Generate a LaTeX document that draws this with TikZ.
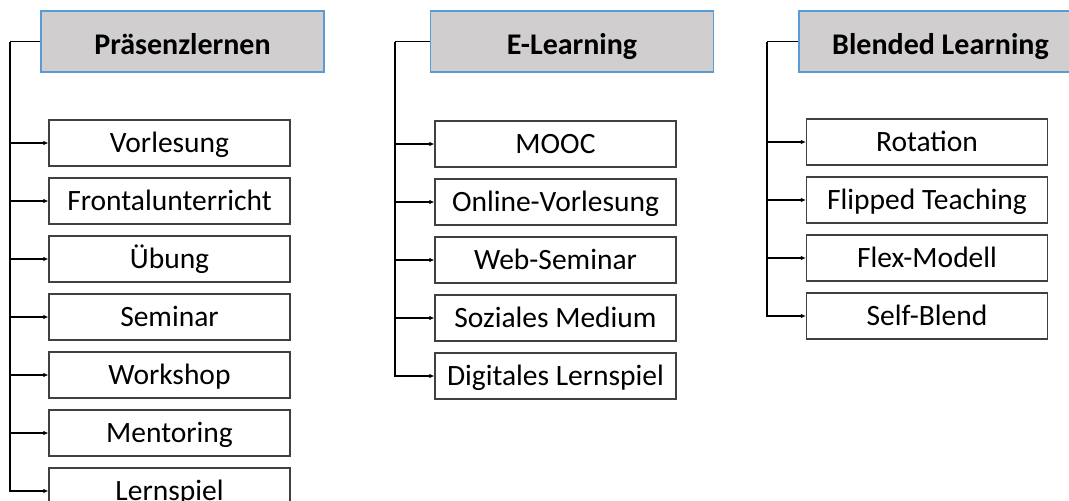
\documentclass[tikz,border=0pt]{standalone}
\usepackage{fontspec}
\setmainfont{Carlito}
\usetikzlibrary{positioning,arrows.meta}
\definecolor{hdfill}{HTML}{D0CECE}
\definecolor{hdline}{HTML}{5B9BD5}
\begin{document}
\begin{tikzpicture}[
  x=1pt,y=-1pt,
  head/.style={draw=hdline,fill=hdfill,line width=1.8pt,minimum width=283pt,minimum height=61pt,
    inner sep=0pt,text height=25pt,text depth=0pt,font=\fontsize{30}{36}\selectfont\bfseries},
  item/.style={draw=black!75,line width=1.2pt,minimum width=241pt,minimum height=46pt,
    inner sep=0pt,text height=18pt,text depth=0pt,font=\fontsize{29.5}{35}\selectfont},
  link/.style={line width=1.8pt},
  arr/.style={line width=1.8pt,-{Latex[length=5pt,width=4.5pt]}}
]
\clip (0,0) rectangle (1069,501);

% Praesenzlernen
\node[head] (hPraesenz) at (182.5,41.5) {Präsenzlernen};
\node[item] (vorlesung) at (169.5,143) {Vorlesung};
\node[item,below=10.8pt of vorlesung] (frontal) {Frontalunterricht};
\node[item,below=10.8pt of frontal] (uebung) {Übung};
\node[item,below=10.8pt of uebung] (seminar) {Seminar};
\node[item,below=10.8pt of seminar] (workshop) {Workshop};
\node[item,below=10.8pt of workshop] (mentoring) {Mentoring};
\node[item,below=10.8pt of mentoring] (lernspiel) {Lernspiel};

% E-Learning
\node[head] (hElearn) at (572,41.5) {E-Learning};
\node[item] (mooc) at (555.5,144) {MOOC};
\node[item,below=10.8pt of mooc] (onlinevl) {Online-Vorlesung};
\node[item,below=10.8pt of onlinevl] (webseminar) {Web-Seminar};
\node[item,below=10.8pt of webseminar] (sozial) {Soziales Medium};
\node[item,below=10.8pt of sozial] (digispiel) {Digitales Lernspiel};

% Blended Learning
\node[head] (hBlended) at (940.5,41.5) {Blended Learning};
\node[item] (rotation) at (927,142) {Rotation};
\node[item,below=10.8pt of rotation] (flipped) {Flipped Teaching};
\node[item,below=10.8pt of flipped] (flex) {Flex-Modell};
\node[item,below=10.8pt of flex] (selfblend) {Self-Blend};

\coordinate (tP) at ([xshift=-30pt]hPraesenz.west);
\coordinate (tE) at ([xshift=-35pt]hElearn.west);
\coordinate (tB) at ([xshift=-31pt]hBlended.west);

\draw[link] (hPraesenz.west) -- (tP);
\draw[arr] (tP) |- (vorlesung);
\draw[arr] (tP) |- (frontal);
\draw[arr] (tP) |- (uebung);
\draw[arr] (tP) |- (seminar);
\draw[arr] (tP) |- (workshop);
\draw[arr] (tP) |- (mentoring);
\draw[arr] (tP) |- (lernspiel);

\draw[link] (hElearn.west) -- (tE);
\draw[arr] (tE) |- (mooc);
\draw[arr] (tE) |- (onlinevl);
\draw[arr] (tE) |- (webseminar);
\draw[arr] (tE) |- (sozial);
\draw[arr] (tE) |- (digispiel);

\draw[link] (hBlended.west) -- (tB);
\draw[arr] (tB) |- (rotation);
\draw[arr] (tB) |- (flipped);
\draw[arr] (tB) |- (flex);
\draw[arr] (tB) |- (selfblend);
\end{tikzpicture}
\end{document}
